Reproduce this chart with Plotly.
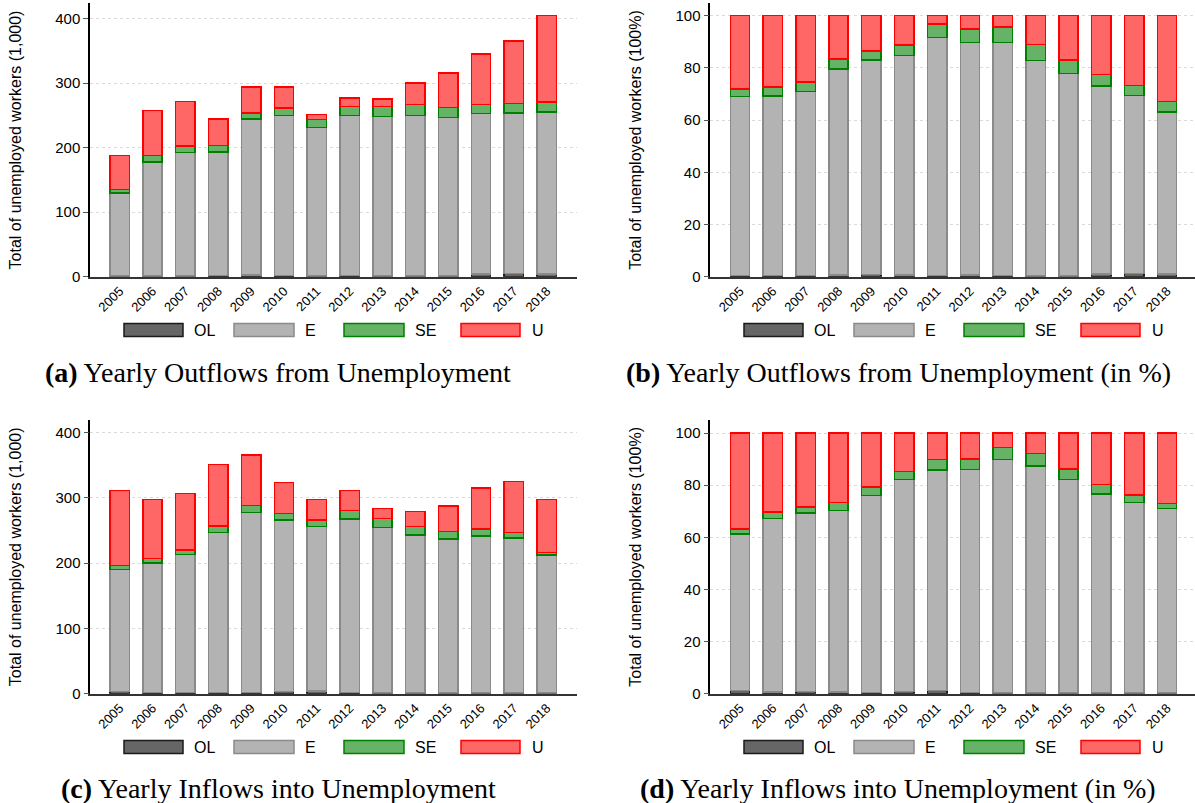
import plotly.graph_objects as go

# ---- data -------------------------------------------------------------
years = ["2005", "2006", "2007", "2008", "2009", "2010", "2011",
         "2012", "2013", "2014", "2015", "2016", "2017", "2018"]

# (a) yearly outflows from unemployment, thousands
out_ol = [1, 1, 1, 1.5, 2.5, 2, 1, 2, 1, 1, 1, 4, 5, 4]
out_e = [129, 177, 191.5, 192, 242, 248, 230.5, 247.5, 247, 248.5, 245.5, 248.5, 249, 251.5]
out_se = [5.5, 9.5, 10, 9.5, 9.5, 11.5, 12, 14, 15.5, 17, 15.5, 14.5, 14, 15]
out_u = [52.5, 70, 69, 41, 40, 32.5, 7.5, 13.5, 12, 34, 53.5, 78, 97.5, 134.5]

# (b) yearly outflows from unemployment, percent
outp_ol = [0.5, 0.4, 0.4, 0.6, 0.9, 0.6, 0.4, 0.7, 0.4, 0.3, 0.3, 1.1, 1.3, 1.0]
outp_e = [68.5, 68.8, 70.5, 78.9, 82.0, 84.2, 91.3, 89.0, 89.3, 82.5, 77.6, 72.0, 68.0, 62.1]
outp_se = [2.8, 3.5, 3.7, 3.9, 3.5, 4.0, 5.1, 5.2, 6.0, 6.1, 5.1, 4.3, 3.9, 3.9]
outp_u = [28.2, 27.3, 25.4, 16.6, 13.6, 11.2, 3.2, 5.1, 4.3, 11.1, 17.0, 22.6, 26.8, 33.0]

# (c) yearly inflows into unemployment, thousands
in_ol = [3, 2, 2, 2, 2, 3, 4, 1.5, 1, 1, 1, 1, 1, 1]
in_e = [187.5, 198.5, 211, 245, 276, 263, 252, 266.5, 253.5, 242.5, 236, 241, 237.5, 211.5]
in_se = [6, 7, 7.5, 10, 10.5, 10, 10.5, 12.5, 14, 13, 11.5, 10.5, 8.5, 4]
in_u = [115, 90.5, 86.5, 94.5, 77, 48, 31.5, 31, 15, 23, 39.5, 62.5, 78, 81.5]

# (d) yearly inflows into unemployment, percent
inp_ol = [1.2, 0.6, 0.8, 0.6, 0.5, 0.8, 1.3, 0.5, 0.3, 0.3, 0.3, 0.3, 0.3, 0.3]
inp_e = [60.1, 66.7, 68.6, 69.7, 75.6, 81.3, 84.6, 85.6, 89.6, 87.0, 81.9, 76.4, 73.1, 70.8]
inp_se = [1.9, 2.5, 2.3, 3.0, 3.2, 3.1, 3.9, 4.0, 4.6, 4.8, 4.0, 3.6, 2.9, 1.9]
inp_u = [36.8, 30.2, 28.3, 26.7, 20.7, 14.8, 10.2, 9.9, 5.5, 7.9, 13.8, 19.7, 23.7, 27.0]

series_names = ["OL", "E", "SE", "U"]
captions = [
    "<b>(a)</b> Yearly Outflows from Unemployment",
    "<b>(b)</b> Yearly Outflows from Unemployment (in %)",
    "<b>(c)</b> Yearly Inflows into Unemployment",
    "<b>(d)</b> Yearly Inflows into Unemployment (in %)",
]
y_titles = [
    "Total of unemployed workers (1,000)",
    "Total of unemployed workers (100%)",
    "Total of unemployed workers (1,000)",
    "Total of unemployed workers (100%)",
]

# ---- styling ------------------------------------------------------------
W, H = 1195, 803
FILL = {"OL": "#666666", "E": "#b3b3b3", "SE": "#66b266", "U": "#ff6666"}
EDGE = {"OL": "#1a1a1a", "E": "#8a8a8a", "SE": "#008000", "U": "#ff0000"}
SANS = "Liberation Sans, Arial, sans-serif"
SERIF = "Liberation Serif, Times New Roman, serif"


def px_x(v):
    return v / W


def px_y(v):
    return 1 - v / H


panels = [
    dict(data=[out_ol, out_e, out_se, out_u], dx=0, top=3.3, bottom=276.7,
         left=90, right=577, yr=[0, 423.6], dt=100, leg_y=330, cap_y=372),
    dict(data=[outp_ol, outp_e, outp_se, outp_u], dx=620, top=3.3, bottom=276.7,
         left=710.3, right=1195, yr=[0, 104.7], dt=20, leg_y=330, cap_y=372),
    dict(data=[in_ol, in_e, in_se, in_u], dx=0, top=420, bottom=693.7,
         left=90.3, right=577, yr=[0, 419.5], dt=100, leg_y=747, cap_y=788),
    dict(data=[inp_ol, inp_e, inp_se, inp_u], dx=620, top=420, bottom=693.7,
         left=710.3, right=1195, yr=[0, 105], dt=20, leg_y=747, cap_y=788),
]

fig = go.Figure()
layout = dict(
    width=W, height=H,
    margin=dict(l=0, r=0, t=0, b=0),
    paper_bgcolor="white", plot_bgcolor="white",
    barmode="stack", bargap=0.41,
    showlegend=False,
    font=dict(family=SANS, color="#000000"),
)

step = 32.85  # pixel distance between neighbouring bars
first_bar = [119.7, 740.0, 119.7, 740.0]

shapes = []
annotations = []

for i, p in enumerate(panels):
    k = "" if i == 0 else str(i + 1)
    xa, ya = "x" + k, "y" + k
    for name, vals in zip(series_names, p["data"]):
        fig.add_trace(go.Bar(
            x=years, y=vals, name=name, xaxis=xa, yaxis=ya,
            marker=dict(color=FILL[name], line=dict(color=EDGE[name], width=1.5)),
            hovertemplate=name + " %{x}: %{y}<extra></extra>",
        ))
    x0 = -(first_bar[i] - p["left"]) / step
    x1 = x0 + (p["right"] - p["left"]) / step
    layout["xaxis" + k] = dict(
        domain=[px_x(p["left"]), min(1.0, px_x(p["right"]))],
        anchor=ya, type="category", range=[x0, x1],
        showline=True, linecolor="#333333", linewidth=1.5,
        showgrid=False, zeroline=False, ticks="",
        tickangle=-45, tickfont=dict(size=13, family=SANS),
        fixedrange=True,
    )
    layout["yaxis" + k] = dict(
        domain=[px_y(p["bottom"]), px_y(p["top"])],
        anchor=xa, range=p["yr"], dtick=p["dt"], tick0=0,
        showline=True, linecolor="#000000", linewidth=1.5,
        showgrid=True, gridcolor="#dadada", griddash="dot", gridwidth=1,
        zeroline=False, ticks="outside", ticklen=5, tickcolor="#555555",
        tickfont=dict(size=15, family=SANS),
        title=dict(text=y_titles[i], font=dict(size=16, family=SANS), standoff=30),
        automargin=False, fixedrange=True,
    )

    # legend row under the panel
    items = [("OL", 124, 183, 192), ("E", 234, 294, 303),
             ("SE", 344, 404, 413), ("U", 461, 520, 530)]
    cy = p["leg_y"]
    for name, rx0, rx1, tx in items:
        shapes.append(dict(
            type="rect", xref="paper", yref="paper",
            x0=px_x(rx0 + p["dx"]), x1=px_x(rx1 + p["dx"]),
            y0=px_y(cy + 6.5), y1=px_y(cy - 6.5),
            fillcolor=FILL[name], line=dict(color=EDGE[name], width=1.5),
        ))
        annotations.append(dict(
            text=name, xref="paper", yref="paper",
            x=px_x(tx + p["dx"]), y=px_y(cy), xanchor="left", yanchor="middle",
            showarrow=False, font=dict(size=16, family=SANS, color="#000000"),
        ))

    # panel caption
    annotations.append(dict(
        text=captions[i], xref="paper", yref="paper",
        x=px_x(278 + p["dx"]), y=px_y(p["cap_y"]), xanchor="center", yanchor="middle",
        showarrow=False, font=dict(size=28, family=SERIF, color="#000000"),
    ))

layout["shapes"] = shapes
layout["annotations"] = annotations
fig.update_layout(**layout)

fig.write_html("out.html", include_plotlyjs=True, config={"displayModeBar": False})
